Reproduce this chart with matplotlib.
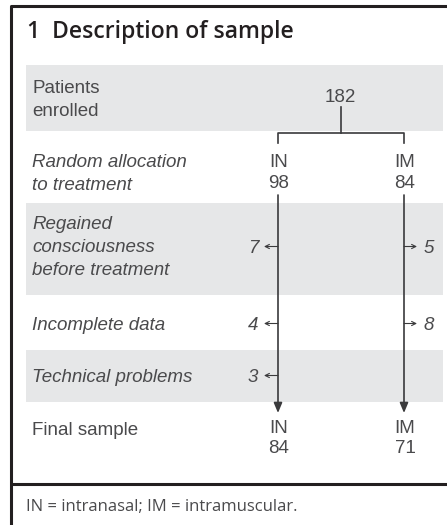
import matplotlib.pyplot as plt

# data
stages = ['Patients\nenrolled', 'Random allocation\nto treatment',
          'Regained\nconsciousness\nbefore treatment', 'Incomplete data',
          'Technical problems', 'Final sample']
stage_italic = [False, True, True, True, True, False]
total = 182
groups = ['IN', 'IM']
allocated = [98, 84]
lost_IN = [7, 4, 3]
lost_IM = [5, 8, None]
final = [84, 71]
footnote = 'IN = intranasal; IM = intramuscular.'

txt = '#4a4a4c'
ln = '#3a3a3c'
gray = '#e6e7e8'
fs = 13.5

plt.rcParams['font.family'] = ['Liberation Sans', 'DejaVu Sans']

fig = plt.figure(figsize=(4.47, 5.25), dpi=100)
ax = fig.add_axes([0, 0, 1, 1])
ax.set_xlim(0, 447)
ax.set_ylim(525, 0)
ax.axis('off')

# frame
ax.plot([11, 11, 447], [525, 6, 6], color='#231f20', lw=2.2, solid_capstyle='butt')
ax.plot([11, 447], [484, 484], color='#231f20', lw=2.2, solid_capstyle='butt')

ax.text(27, 38, '1  Description of sample', fontsize=16.5, family='Open Sans',
        weight='semibold', color='#231f20', va='baseline')

# gray bands
for y0, y1 in [(65, 131), (203, 295), (350, 402)]:
    ax.add_patch(plt.Rectangle((26, y0), 443 - 26, y1 - y0, color=gray, lw=0, zorder=0))

# stage labels (baseline of first line, then line step)
stage_y = [93, 167, 229, 330, 382, 435]
for s, it, y in zip(stages, stage_italic, stage_y):
    for k, line in enumerate(s.split('\n')):
        ax.text(32, y + k * 23, line, fontsize=fs, color=txt,
                style='italic' if it else 'normal', va='baseline', ha='left')

xs = [278, 404]
xm = sum(xs) / 2
ax.text(xm - 1, 102, str(total), fontsize=fs, color=txt, ha='center', va='baseline')
ax.plot([xm, xm], [107, 133], color=ln, lw=1.2)
ax.plot([xs[0], xs[0], xs[1], xs[1]], [143, 133, 133, 143], color=ln, lw=1.2)

for x, g, a, f in zip(xs, groups, allocated, final):
    ax.text(x + 1, 167, g, fontsize=fs, color=txt, ha='center', va='baseline')
    ax.text(x + 1, 188, str(a), fontsize=fs, color=txt, ha='center', va='baseline')
    ax.annotate('', xy=(x, 413), xytext=(x, 195),
                arrowprops=dict(arrowstyle='-|>,head_length=0.6,head_width=0.25',
                                color=ln, lw=1.2, shrinkA=0, shrinkB=0))
    ax.text(x + 1, 433, g, fontsize=fs, color=txt, ha='center', va='baseline')
    ax.text(x + 1, 453, str(f), fontsize=fs, color=txt, ha='center', va='baseline')

lost_y = [253, 330, 382]
for y, a, b in zip(lost_y, lost_IN, lost_IM):
    yc = y - 6.5
    if a is not None:
        ax.annotate('', xy=(264, yc), xytext=(xs[0], yc),
                    arrowprops=dict(arrowstyle='->,head_length=0.3,head_width=0.15',
                                    color=ln, lw=0.8, shrinkA=0, shrinkB=0))
        ax.text(258, y, str(a), fontsize=fs, color=txt, style='italic',
                ha='right', va='baseline')
    if b is not None:
        ax.annotate('', xy=(417, yc), xytext=(xs[1], yc),
                    arrowprops=dict(arrowstyle='->,head_length=0.3,head_width=0.15',
                                    color=ln, lw=0.8, shrinkA=0, shrinkB=0))
        ax.text(424, y, str(b), fontsize=fs, color=txt, style='italic',
                ha='left', va='baseline')

ax.text(26, 511, footnote, fontsize=12, family='Open Sans', color=txt,
        ha='left', va='baseline')

fig.savefig('out.png', dpi=100)
